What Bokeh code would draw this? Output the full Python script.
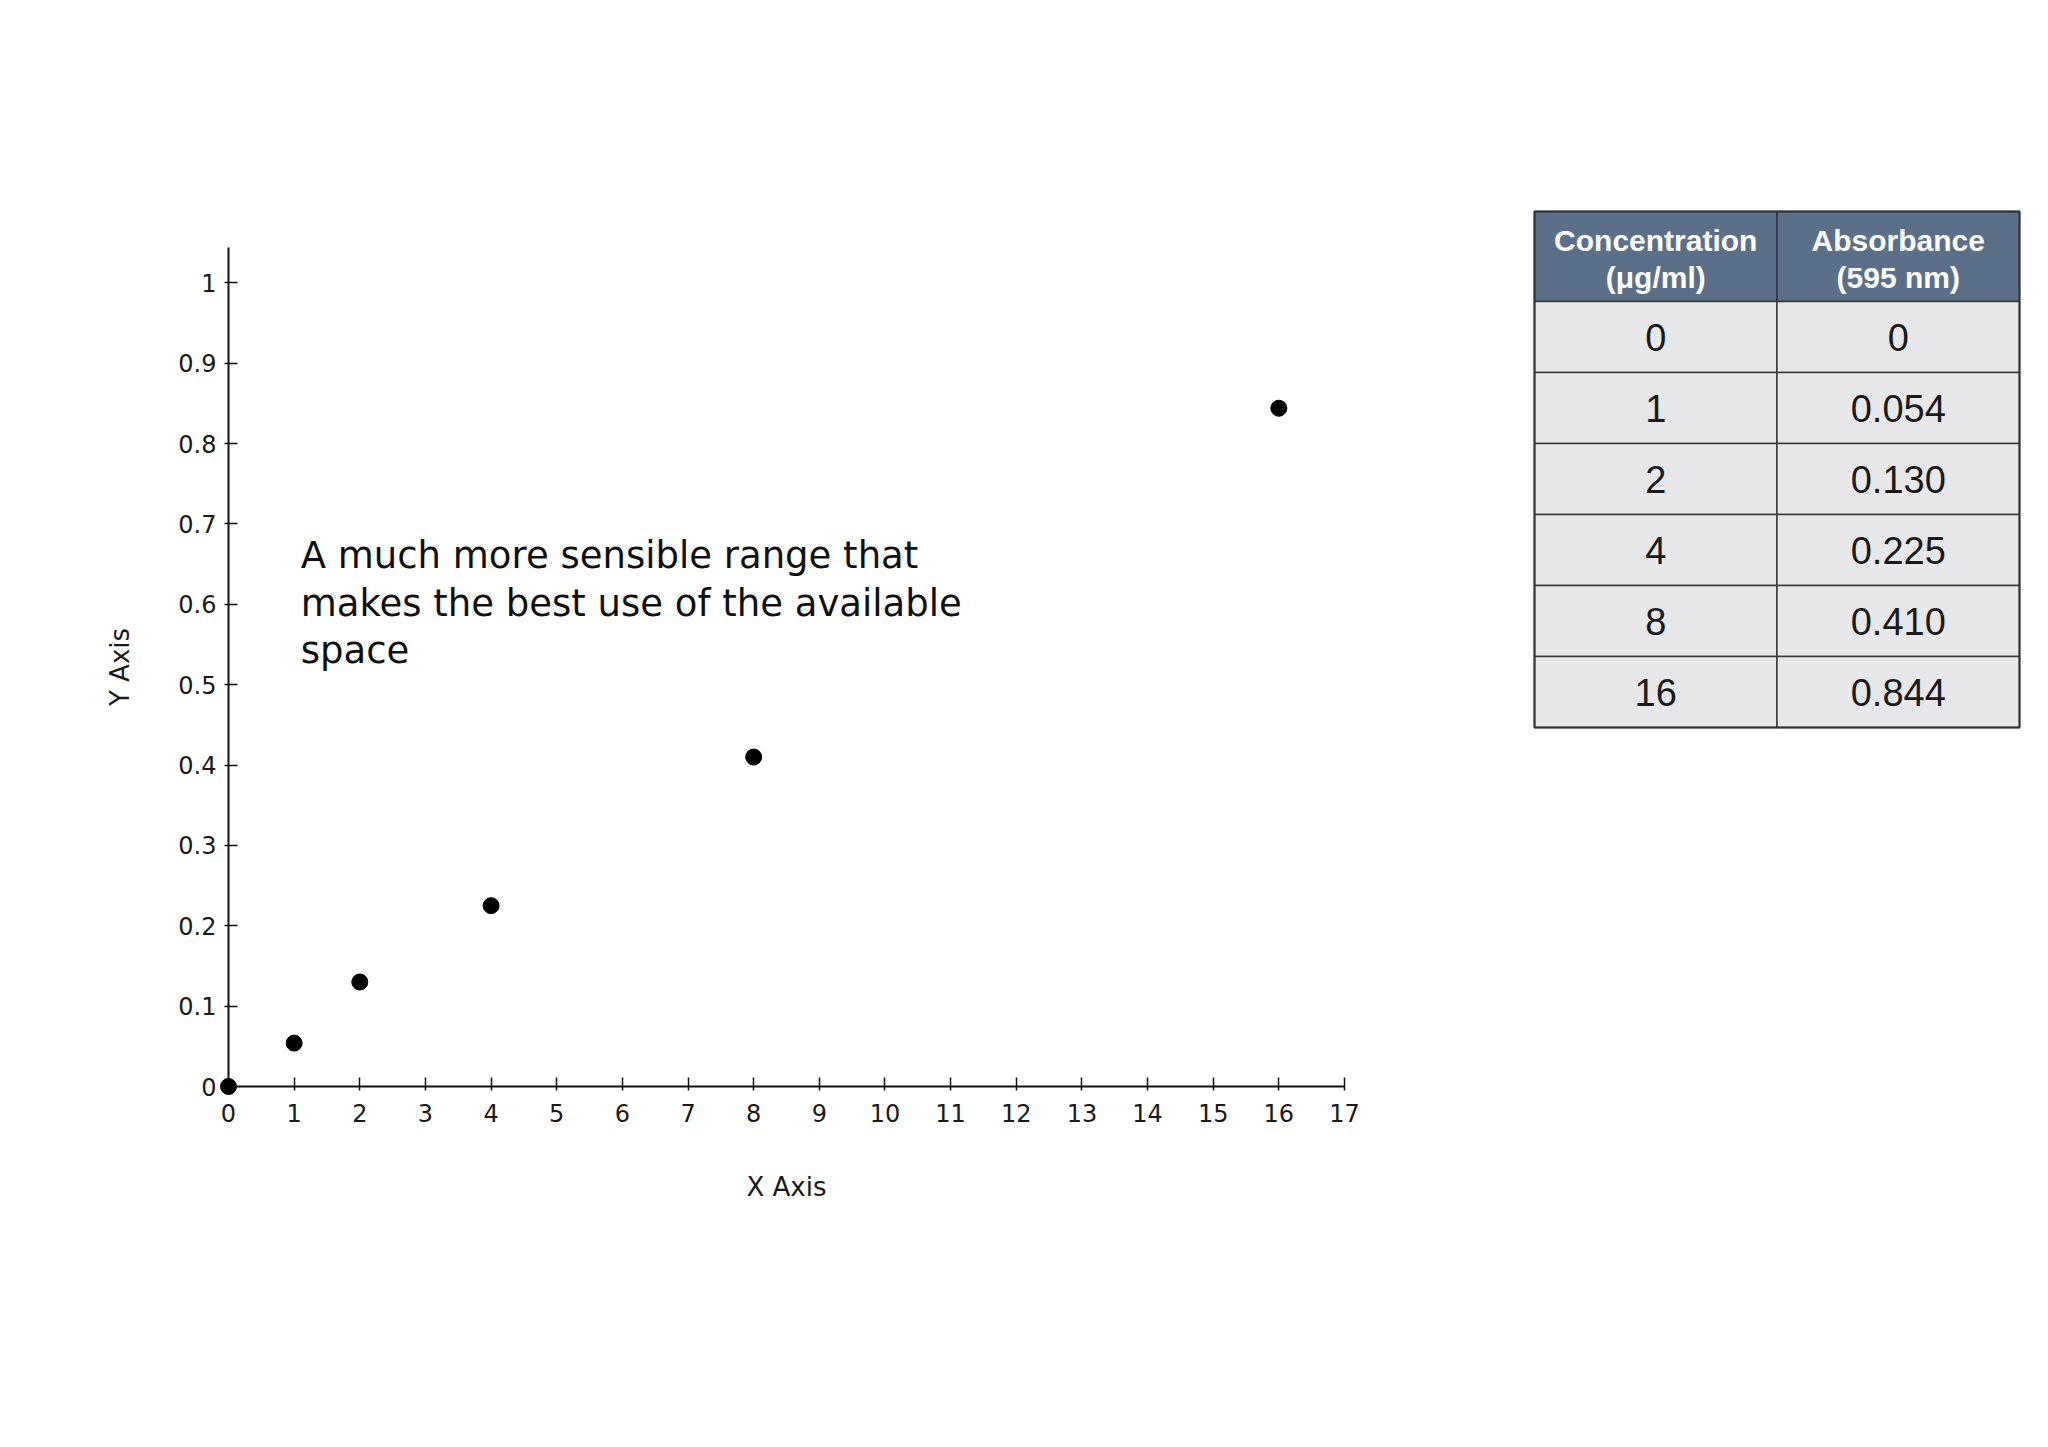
from bokeh.plotting import figure
from bokeh.models import Range1d, FixedTicker
from bokeh.core.properties import value
from bokeh.embed import file_html
from bokeh.resources import INLINE

# ---- data ----
concentration = [0, 1, 2, 4, 8, 16]
absorbance = [0, 0.054, 0.130, 0.225, 0.410, 0.844]
conc_labels = ["0", "1", "2", "4", "8", "16"]
abs_labels = ["0", "0.054", "0.130", "0.225", "0.410", "0.844"]
header_line1 = ["Concentration", "Absorbance"]
header_line2 = ["(\u03bcg/ml)", "(595 nm)"]

x_ticks = [0, 1, 2, 3, 4, 5, 6, 7, 8, 9, 10, 11, 12, 13, 14, 15, 16, 17]
y_ticks = [0, 0.1, 0.2, 0.3, 0.4, 0.5, 0.6, 0.7, 0.8, 0.9, 1.0]
y_tick_labels = ["0", "0.1", "0.2", "0.3", "0.4", "0.5", "0.6", "0.7", "0.8", "0.9", "1"]

x_label = "X Axis"
y_label = "Y Axis"
annotation = "A much more sensible range that\nmakes the best use of the available\nspace"

FONT = "DejaVu Sans"
TFONT = "Liberation Sans"

# ---- layout constants (pixels) ----
W, H = 2031, 1309
BL, BT, BR, BB = 228, 247, 687, 223
frame_w = W - BL - BR
frame_h = H - BT - BB
table_left = 1534
table_top = 211

p = figure(width=W, height=H, output_backend="svg", toolbar_location=None,
           x_range=Range1d(0, 17), y_range=Range1d(0, 1.044),
           min_border_left=BL, min_border_top=BT, min_border_right=BR, min_border_bottom=BB,
           background_fill_color="white", border_fill_color="white", outline_line_color=None)
p.grid.visible = False

p.xaxis.ticker = FixedTicker(ticks=x_ticks)
p.yaxis.ticker = FixedTicker(ticks=y_ticks)
p.yaxis.major_label_overrides = {t: s for t, s in zip(y_ticks, y_tick_labels)}
p.xaxis.axis_label = x_label
p.yaxis.axis_label = y_label

for ax in (p.xaxis, p.yaxis):
    ax.axis_line_width = 2
    ax.axis_line_color = "#111111"
    ax.major_tick_line_width = 1.5
    ax.major_tick_line_color = "#111111"
    ax.major_tick_in = 9
    ax.major_tick_out = 4
    ax.minor_tick_line_color = None
    ax.major_label_text_font = FONT
    ax.major_label_text_font_size = "24px"
    ax.major_label_text_color = "#1a1a1a"
    ax.axis_label_text_font = FONT
    ax.axis_label_text_font_size = "26px"
    ax.axis_label_text_font_style = "normal"
    ax.axis_label_text_color = "#1a1a1a"

p.xaxis.major_label_standoff = 13
p.yaxis.major_label_standoff = 8
p.xaxis.axis_label_standoff = 47
p.yaxis.axis_label_standoff = 40

p.scatter(concentration, absorbance, size=16, color="black", level="overlay")

p.text(x=[1.1], y=[0.687], text=[annotation], text_font=value(FONT), text_font_size="37px",
       text_baseline="top", text_align="left", text_line_height=1.1, text_color="#111111")

# ---- table (pixel-unit ranges, drawn unclipped at overlay level) ----
x0 = -(table_left - BL)
p.extra_x_ranges = {"tx": Range1d(x0, x0 + frame_w)}
y_bottom = (BT + frame_h) - table_top
p.extra_y_ranges = {"ty": Range1d(y_bottom, y_bottom - frame_h)}
tk = dict(x_range_name="tx", y_range_name="ty", level="overlay")

col_w = 242.5
header_h = 90
row_h = 71
n_rows = len(conc_labels)
total_w = 2 * col_w
total_h = header_h + n_rows * row_h

lefts = [0, col_w]
rights = [col_w, total_w]
centers = [col_w / 2, col_w * 1.5]

p.quad(left=lefts, right=rights, top=[0, 0], bottom=[header_h, header_h],
       fill_color="#5b7088", line_color="#2e3640", line_width=1.5, **tk)
p.text(x=centers, y=[header_h / 2 - 16] * 2, text=header_line1, text_font=value(TFONT),
       text_font_size="30px", text_font_style="bold", text_color="white",
       text_align="center", text_baseline="middle", **tk)
p.text(x=centers, y=[header_h / 2 + 21] * 2, text=header_line2, text_font=value(TFONT),
       text_font_size="30px", text_font_style="bold", text_color="white",
       text_align="center", text_baseline="middle", **tk)

cl, cr, ct, cb = [], [], [], []
tx, ty, tt = [], [], []
for i in range(n_rows):
    top = header_h + i * row_h
    for j in range(2):
        cl.append(lefts[j]); cr.append(rights[j]); ct.append(top); cb.append(top + row_h)
    tx += centers
    ty += [top + row_h / 2, top + row_h / 2]
    tt += [conc_labels[i], abs_labels[i]]

p.quad(left=cl, right=cr, top=ct, bottom=cb, fill_color="#e8e8ea",
       line_color="#3a3a3a", line_width=1.5, **tk)
p.text(x=tx, y=ty, text=tt, text_font=value(TFONT), text_font_size="38px",
       text_color="#1a1a1a", text_align="center", text_baseline="middle", **tk)

p.quad(left=[0], right=[total_w], top=[0], bottom=[total_h], fill_color=None,
       line_color="#333333", line_width=2, **tk)

open("out.html", "w").write(file_html(p, INLINE))
